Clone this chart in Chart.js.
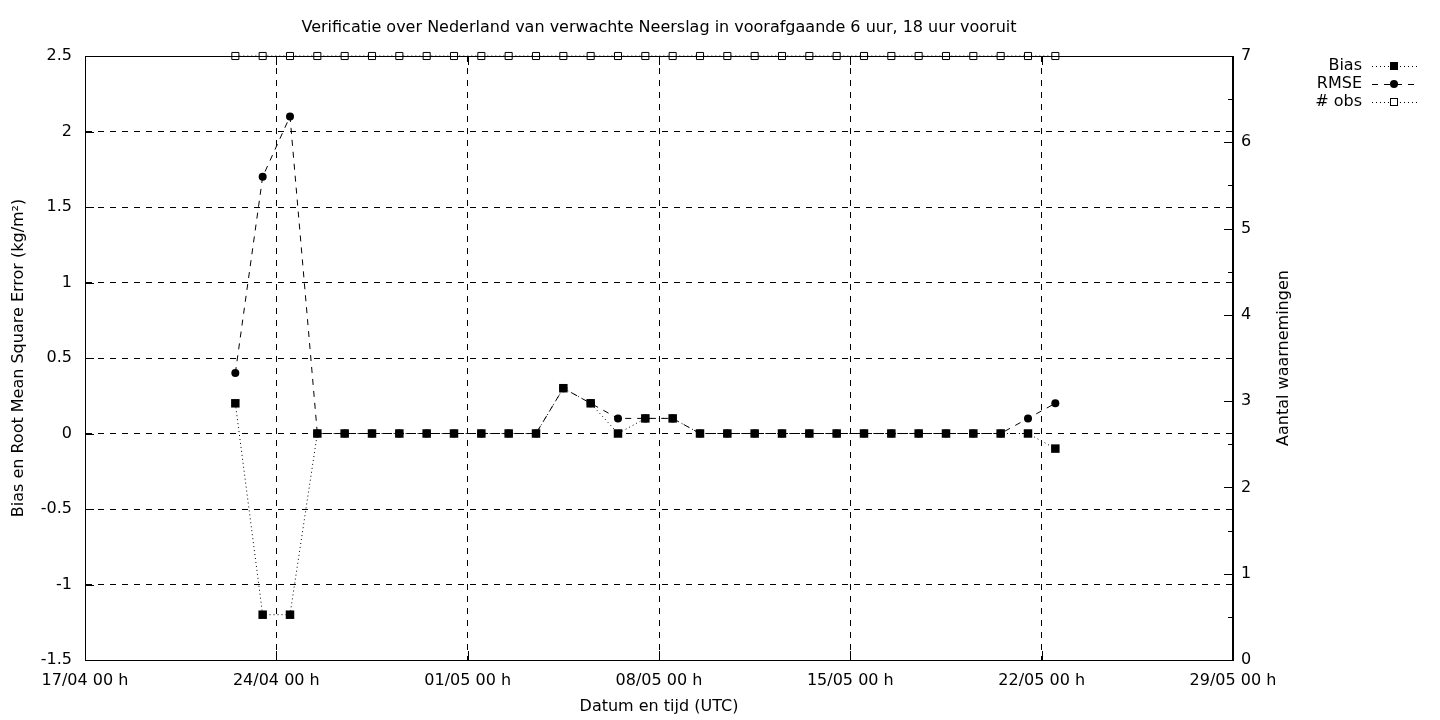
<!DOCTYPE html>
<html>
<head>
<meta charset="utf-8">
<script src="https://cdn.jsdelivr.net/npm/chart.js@4/dist/chart.umd.min.js"></script>
<style>
  html, body { margin: 0; padding: 0; background: #fff; }
  canvas { display: block; }
</style>
</head>
<body>
<canvas id="chart" width="1440" height="720"></canvas>
<script>
// dates (dd/mm, all at 12 h) of the 31 verification points
const dates = [
  "22/04", "23/04", "24/04", "25/04", "26/04", "27/04", "28/04", "29/04", "30/04",
  "01/05", "02/05", "03/05", "04/05", "05/05", "06/05", "07/05", "08/05", "09/05",
  "10/05", "11/05", "12/05", "13/05", "14/05", "15/05", "16/05", "17/05", "18/05",
  "19/05", "20/05", "21/05", "22/05"
];
const bias = [
  0.2, -1.2, -1.2, 0, 0, 0, 0, 0, 0,
  0, 0, 0, 0.3, 0.2, 0, 0.1, 0.1, 0,
  0, 0, 0, 0, 0, 0, 0, 0, 0,
  0, 0, 0, -0.1
];
const rmse = [
  0.4, 1.7, 2.1, 0, 0, 0, 0, 0, 0,
  0, 0, 0, 0.3, 0.2, 0.1, 0.1, 0.1, 0,
  0, 0, 0, 0, 0, 0, 0, 0, 0,
  0, 0, 0.1, 0.2
];
const nobs = [
  7, 7, 7, 7, 7, 7, 7, 7, 7,
  7, 7, 7, 7, 7, 7, 7, 7, 7,
  7, 7, 7, 7, 7, 7, 7, 7, 7,
  7, 7, 7, 7
];
const xTickLabels = ["17/04 00 h", "24/04 00 h", "01/05 00 h", "08/05 00 h", "15/05 00 h", "22/05 00 h", "29/05 00 h"];

const title = "Verificatie over Nederland van verwachte Neerslag in voorafgaande 6 uur, 18 uur vooruit";
const FONT = "DejaVu Sans";
const FS = 16;

// days since 17/04 00 h
function dayOf(s) {
  const d = parseInt(s.slice(0, 2), 10);
  const m = parseInt(s.slice(3, 5), 10);
  return (m === 4 ? d - 17 : d + 30 - 17) + 0.5;
}
const xs = dates.map(dayOf);
const pts = arr => arr.map((v, i) => ({ x: xs[i], y: v }));

const frame = {
  id: "frame",
  afterDraw(chart) {
    const { ctx, chartArea: a, scales } = chart;
    ctx.save();
    ctx.strokeStyle = "#000";
    ctx.lineWidth = 1;
    ctx.setLineDash([]);
    ctx.strokeRect(a.left + 0.5, a.top + 0.5, a.right - a.left - 1, a.bottom - a.top);

    // inward tick marks
    ctx.beginPath();
    for (let v = -1.5; v <= 2.5; v += 0.5) {
      const y = Math.round(scales.y.getPixelForValue(v)) + 0.5;
      ctx.moveTo(a.left, y); ctx.lineTo(a.left + 9, y);
    }
    for (let v = 0; v <= 7; v += 0.5) {
      const y = Math.round(scales.y2.getPixelForValue(v)) + 0.5;
      const len = Number.isInteger(v) ? 9 : 5;
      ctx.moveTo(a.right, y); ctx.lineTo(a.right - len, y);
    }
    for (let v = 0; v <= 42; v += 7) {
      const x = Math.round(scales.x.getPixelForValue(v)) + 0.5;
      ctx.moveTo(x, a.bottom); ctx.lineTo(x, a.bottom - 9);
      ctx.moveTo(x, a.top); ctx.lineTo(x, a.top + 9);
    }
    ctx.stroke();

    ctx.fillStyle = "#000";
    ctx.font = FS + "px '" + FONT + "'";
    ctx.textAlign = "center";
    ctx.textBaseline = "middle";
    ctx.fillText(title, (a.left + a.right) / 2, 28);

    // right axis title, reading bottom to top
    ctx.save();
    ctx.translate(1284, (a.top + a.bottom) / 2);
    ctx.rotate(-Math.PI / 2);
    ctx.fillText("Aantal waarnemingen", 0, 0);
    ctx.restore();

    // legend
    const items = [
      { label: "Bias", dash: [1, 3], marker: "sq" },
      { label: "RMSE", dash: [6, 6], marker: "dot" },
      { label: "# obs", dash: [1, 3], marker: "open" }
    ];
    items.forEach((it, i) => {
      const y = 66 + i * 18;
      ctx.textAlign = "right";
      ctx.fillStyle = "#000";
      ctx.fillText(it.label, 1362, y);
      ctx.beginPath();
      ctx.setLineDash(it.dash);
      ctx.moveTo(1372, y + 0.5); ctx.lineTo(1418, y + 0.5);
      ctx.stroke();
      ctx.setLineDash([]);
      const cx = 1394;
      if (it.marker === "sq") {
        ctx.fillRect(cx - 4, y - 4, 8, 8);
      } else if (it.marker === "dot") {
        ctx.beginPath(); ctx.arc(cx, y, 4, 0, Math.PI * 2); ctx.fill();
      } else {
        ctx.fillStyle = "#fff";
        ctx.fillRect(cx - 4, y - 4, 8, 8);
        ctx.strokeRect(cx - 3.5, y - 3.5, 7, 7);
      }
    });
    ctx.restore();
  }
};

const tickFont = { family: FONT, size: FS };

new Chart(document.getElementById("chart"), {
  type: "line",
  data: {
    datasets: [
      {
        label: "Bias", data: pts(bias), yAxisID: "y",
        borderColor: "#000", borderWidth: 1, borderDash: [1, 3],
        pointStyle: "rect", pointRadius: 6, pointBackgroundColor: "#000", pointBorderWidth: 0
      },
      {
        label: "RMSE", data: pts(rmse), yAxisID: "y",
        borderColor: "#000", borderWidth: 1, borderDash: [6, 6],
        pointStyle: "circle", pointRadius: 4, pointBackgroundColor: "#000", pointBorderWidth: 0
      },
      {
        label: "# obs", data: pts(nobs), yAxisID: "y2",
        borderColor: "#000", borderWidth: 1, borderDash: [1, 3],
        pointStyle: "rect", pointRadius: 5, pointBackgroundColor: "#fff",
        pointBorderColor: "#000", pointBorderWidth: 1
      }
    ]
  },
  options: {
    responsive: false,
    animation: false,
    clip: false,
    layout: { padding: { top: 56, right: 137, bottom: 0, left: 0 } },
    plugins: { legend: { display: false }, tooltip: { enabled: false } },
    scales: {
      x: {
        type: "linear", min: 0, max: 42,
        ticks: {
          stepSize: 7, color: "#000", font: tickFont, padding: 11, maxRotation: 0,
          callback: v => xTickLabels[Math.round(v / 7)]
        },
        grid: { color: "#000", drawTicks: false },
        border: { color: "#000", dash: [6, 6] },
        title: { display: true, text: "Datum en tijd (UTC)", color: "#000", font: tickFont, padding: { top: 10 } },
        afterFit(s) { s.height = 60; }
      },
      y: {
        position: "left", min: -1.5, max: 2.5,
        ticks: { stepSize: 0.5, color: "#000", font: tickFont, padding: 13, callback: v => String(v) },
        grid: { color: "#000", drawTicks: false },
        border: { color: "#000", dash: [6, 6] },
        title: {
          display: true, text: "Bias en Root Mean Square Error (kg/m²)",
          color: "#000", font: tickFont, padding: { top: 9, bottom: 0 }
        },
        afterFit(s) { s.width = 85; }
      },
      y2: {
        position: "right", min: 0, max: 7,
        ticks: { stepSize: 1, color: "#000", font: tickFont, padding: 8 },
        grid: { display: false, drawTicks: false },
        border: { color: "#000" },
        afterFit(s) { s.width = 70; }
      }
    }
  },
  plugins: [frame]
});
</script>
</body>
</html>
